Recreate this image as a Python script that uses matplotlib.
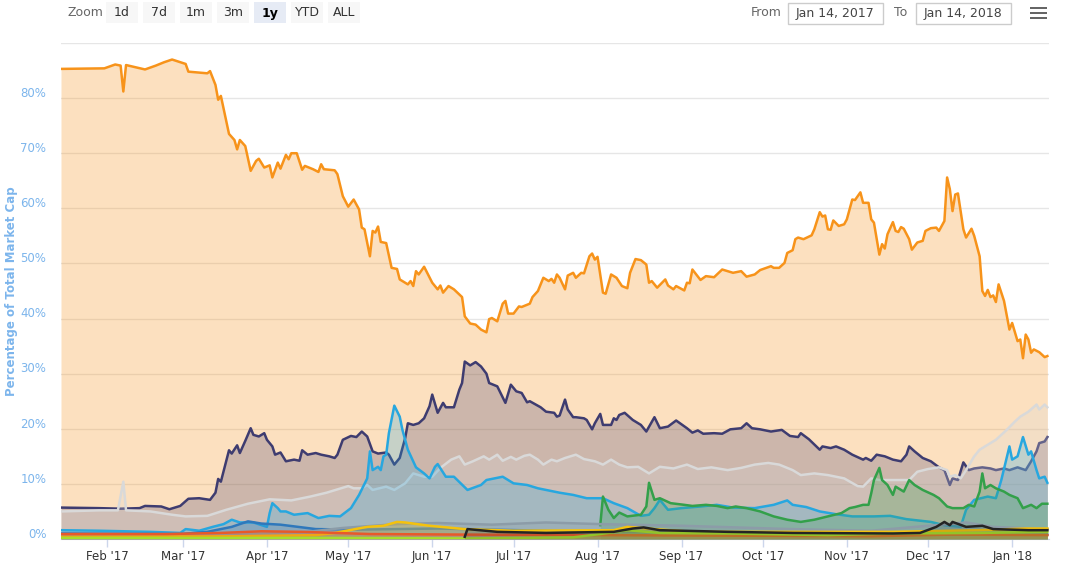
import numpy as np
import matplotlib.pyplot as plt
import matplotlib.dates as mdates
from matplotlib.patches import Rectangle
from matplotlib.transforms import ScaledTranslation

# day offsets from 2017-01-14, values in % of total market cap
btc_days = [1, 17, 21, 23, 24, 25, 32, 36, 39, 42, 47, 48, 55, 56, 58, 59, 60, 63, 65, 66, 67, 69, 71, 73, 74, 76,
            78, 79, 81, 82, 84, 85, 86, 88, 90, 91, 94, 96, 97, 98, 102, 103, 105, 107, 109, 111, 112, 113, 115,
            116, 117, 118, 119, 121, 123, 125, 126, 129, 130, 131, 132, 133, 135, 138, 140, 141, 142, 144, 146,
            149, 150, 152, 154, 156, 158, 159, 160, 162, 164, 165, 166, 168, 170, 171, 174, 175, 177, 179, 181,
            182, 183, 184, 185, 187, 188, 190, 191, 193, 194, 196, 197, 198, 199, 201, 202, 204, 206, 208, 210,
            211, 213, 215, 217, 218, 219, 221, 224, 225, 227, 228, 231, 232, 233, 234, 237, 239, 242, 245, 249,
            252, 254, 257, 259, 263, 264, 266, 268, 269, 271, 272, 273, 275, 278, 279, 281, 282, 283, 284, 285,
            286, 288, 290, 291, 293, 294, 296, 297, 299, 300, 301, 303, 304, 305, 306, 308, 309, 310, 311, 312,
            314, 315, 317, 319, 320, 322, 324, 325, 327, 328, 329, 330, 331, 332, 334, 335, 337, 338, 340, 341,
            342, 343, 344, 345, 346, 347, 348, 349, 351, 352, 354, 355, 356, 357, 358, 359, 360, 362, 364, 365]
btc_vals = [85.3, 85.4, 86.1, 85.9, 81.2, 86.0, 85.2, 85.9, 86.5, 87.0, 86.2, 84.8, 84.5, 84.9, 82.4, 79.7, 80.4,
            73.5, 72.4, 70.7, 72.4, 71.3, 66.8, 68.6, 69.0, 67.4, 67.8, 65.6, 68.3, 67.2, 69.7, 68.9, 70.0, 70.0,
            67.0, 67.7, 67.1, 66.6, 68.0, 67.1, 66.9, 66.2, 62.2, 60.3, 61.6, 59.8, 56.5, 56.2, 51.3, 55.9, 55.6,
            56.7, 53.9, 53.7, 49.2, 49.0, 47.1, 46.2, 46.8, 45.9, 48.6, 48.0, 49.4, 46.5, 45.3, 46.0, 44.7, 45.9,
            45.3, 43.9, 40.4, 39.1, 38.9, 38.0, 37.5, 39.9, 40.1, 39.5, 42.7, 43.2, 40.9, 40.9, 42.2, 42.1, 42.7,
            43.9, 45.0, 47.4, 46.8, 47.2, 46.5, 48.0, 47.4, 45.3, 47.8, 48.3, 47.4, 48.3, 48.2, 51.3, 51.8, 50.7,
            51.2, 44.7, 44.5, 48.0, 47.4, 45.9, 45.5, 48.3, 50.8, 50.6, 49.8, 46.5, 46.8, 45.6, 47.1, 46.0, 45.3,
            45.9, 45.1, 46.5, 46.4, 48.9, 47.0, 47.7, 47.5, 48.9, 48.3, 48.6, 47.6, 48.0, 48.8, 49.5, 49.2, 49.2,
            50.1, 51.9, 52.4, 54.4, 54.7, 54.4, 55.1, 56.2, 59.3, 58.5, 58.7, 56.2, 56.1, 57.8, 56.8, 57.1, 58.0,
            61.6, 61.5, 62.9, 61.0, 61.0, 58.0, 57.4, 51.6, 53.5, 52.7, 55.3, 57.5, 55.9, 55.7, 56.6, 56.3, 54.4,
            52.5, 53.8, 54.1, 55.9, 56.4, 56.5, 55.9, 57.7, 65.6, 63.5, 59.5, 62.5, 62.7, 56.2, 54.7, 56.3, 55.0,
            51.3, 45.0, 44.1, 45.2, 43.9, 44.2, 43.0, 46.2, 44.7, 43.2, 38.0, 39.2, 35.9, 36.2, 32.8, 37.1, 36.2,
            33.8, 34.4, 33.9, 33.0, 33.2]

eth_days = [1, 15, 23, 30, 32, 38, 41, 45, 48, 52, 56, 58, 59, 60, 63, 64, 66, 67, 69, 71, 72, 74, 76, 77, 79, 80,
            82, 84, 87, 89, 90, 92, 95, 97, 100, 102, 103, 105, 108, 110, 112, 114, 116, 118, 121, 122, 124, 126,
            128, 129, 131, 133, 135, 137, 138, 140, 142, 143, 146, 148, 149, 150, 152, 154, 156, 158, 159, 162,
            165, 167, 169, 171, 173, 174, 178, 180, 183, 184, 185, 187, 188, 190, 191, 194, 195, 197, 198, 200,
            201, 204, 205, 206, 207, 209, 212, 215, 217, 220, 222, 225, 228, 232, 234, 236, 238, 242, 245, 248,
            252, 254, 256, 259, 263, 267, 270, 273, 274, 277, 281, 282, 285, 287, 290, 293, 297, 298, 300, 302,
            305, 308, 311, 313, 314, 316, 319, 322, 325, 327, 329, 330, 332, 334, 336, 338, 341, 344, 346, 349,
            351, 354, 357, 359, 361, 362, 364, 365]
eth_vals = [5.7, 5.6, 5.5, 5.6, 6.0, 5.9, 5.4, 6.0, 7.3, 7.4, 7.1, 8.4, 10.9, 10.4, 16.1, 15.5, 17.0, 15.6, 17.8,
            20.1, 18.9, 18.6, 19.2, 18.0, 16.8, 15.3, 15.7, 14.1, 14.4, 14.2, 16.1, 15.3, 15.6, 15.3, 15.0, 14.7,
            15.3, 18.0, 18.7, 18.5, 19.5, 18.6, 15.9, 15.5, 15.7, 15.3, 13.5, 14.7, 18.3, 21.0, 20.7, 21.0, 21.9,
            24.1, 26.2, 22.9, 24.7, 23.9, 23.9, 27.1, 28.3, 32.2, 31.5, 32.1, 31.3, 30.0, 28.3, 27.7, 24.7, 28.0,
            26.8, 26.5, 24.8, 25.0, 23.9, 23.1, 22.9, 22.2, 22.4, 25.3, 23.5, 22.1, 22.1, 21.9, 21.6, 19.9, 21.0,
            22.7, 20.7, 20.7, 21.9, 21.6, 22.5, 22.9, 21.6, 20.7, 19.5, 22.1, 20.1, 20.4, 21.5, 20.1, 19.3, 19.7,
            19.1, 19.2, 19.1, 19.9, 20.1, 21.0, 20.1, 19.9, 19.5, 19.8, 18.7, 18.5, 19.2, 18.1, 16.2, 16.8, 16.5,
            16.8, 16.2, 15.3, 14.4, 14.7, 14.2, 15.3, 15.0, 14.4, 14.1, 15.3, 16.8, 15.9, 14.7, 14.1, 13.0, 12.5,
            9.8, 11.0, 10.7, 13.9, 12.5, 12.8, 13.0, 12.8, 12.5, 12.8, 12.5, 13.0, 12.5, 14.1, 15.9, 17.4, 17.7,
            18.5]

xrp_days = [1, 15, 34, 45, 47, 52, 57, 61, 64, 67, 72, 77, 78, 79, 81, 82, 84, 87, 92, 96, 100, 104, 108, 111,
            114, 115, 116, 118, 119, 120, 121, 122, 124, 126, 127, 129, 132, 135, 137, 139, 140, 143, 146, 151,
            156, 158, 161, 164, 168, 173, 177, 180, 185, 190, 195, 201, 205, 210, 215, 218, 220, 222, 225, 230,
            237, 243, 249, 257, 264, 269, 271, 276, 281, 287, 293, 301, 307, 313, 322, 327, 333, 335, 338, 343,
            346, 348, 351, 352, 354, 356, 358, 359, 361, 362, 364, 365]
xrp_vals = [1.6, 1.5, 1.3, 1.1, 1.8, 1.5, 2.2, 2.7, 3.5, 3.0, 3.0, 2.2, 4.7, 6.5, 5.6, 5.0, 5.0, 4.4, 4.7, 3.8,
            4.2, 4.1, 5.6, 8.0, 11.0, 15.9, 12.5, 13.1, 12.5, 15.0, 15.3, 19.2, 24.2, 22.2, 19.8, 16.2, 13.0, 11.9,
            11.0, 13.1, 13.6, 11.3, 11.3, 8.9, 9.8, 10.7, 11.0, 11.3, 10.1, 9.8, 9.2, 8.9, 8.4, 8.0, 7.4, 7.4, 6.5,
            5.6, 4.2, 4.4, 5.6, 7.1, 5.3, 5.6, 5.9, 6.2, 5.7, 5.6, 6.2, 7.0, 6.2, 5.8, 5.0, 4.5, 4.1, 4.1, 4.2,
            3.6, 3.1, 2.5, 2.2, 5.3, 7.1, 7.7, 7.4, 10.7, 16.8, 14.4, 15.0, 18.5, 15.3, 15.9, 12.5, 11.0, 11.3,
            10.2]

oth_days = [1, 15, 22, 24, 25, 34, 42, 47, 55, 62, 70, 78, 86, 93, 99, 107, 109, 112, 114, 116, 121, 124, 128,
            131, 135, 138, 141, 145, 148, 150, 153, 157, 159, 162, 164, 167, 169, 172, 174, 177, 179, 182, 184,
            187, 191, 194, 198, 201, 204, 207, 210, 214, 218, 222, 227, 232, 236, 241, 247, 252, 257, 262, 266,
            271, 274, 279, 284, 290, 295, 297, 300, 303, 308, 314, 317, 321, 325, 328, 329, 331, 333, 335, 338,
            340, 344, 346, 350, 353, 355, 358, 361, 362, 364, 365]
oth_vals = [5.0, 5.2, 5.2, 10.4, 5.2, 5.0, 4.4, 4.1, 4.2, 5.3, 6.4, 7.2, 7.0, 7.7, 8.4, 9.6, 9.2, 9.2, 9.8, 8.9,
            9.5, 8.9, 10.1, 11.9, 11.3, 11.3, 12.9, 14.4, 15.0, 13.5, 14.1, 15.0, 14.4, 15.3, 14.2, 14.9, 14.4,
            15.1, 15.3, 14.4, 13.5, 14.4, 14.1, 14.7, 15.3, 14.5, 14.1, 13.5, 14.4, 13.5, 13.0, 13.1, 11.9, 13.1,
            12.8, 13.5, 12.7, 13.0, 12.5, 12.9, 13.5, 13.8, 13.5, 12.5, 11.6, 11.9, 11.6, 11.0, 9.6, 9.5, 11.0,
            10.7, 10.7, 10.7, 12.2, 12.7, 13.0, 12.5, 11.3, 11.6, 11.0, 12.5, 15.0, 16.2, 17.4, 18.0, 19.8, 21.3,
            22.2, 23.1, 24.4, 23.5, 24.4, 23.9]

bch_days = [200, 201, 203, 205, 207, 210, 215, 217, 218, 220, 222, 226, 231, 234, 239, 243, 247, 250, 254, 259,
            264, 269, 274, 279, 284, 289, 292, 294, 297, 299, 300, 301, 303, 304, 306, 308, 309, 312, 314, 316,
            319, 323, 325, 328, 330, 334, 336, 338, 340, 341, 342, 344, 346, 349, 351, 354, 356, 359, 361, 363, 365]
bch_vals = [2.5, 7.7, 5.3, 3.8, 4.8, 4.1, 4.4, 5.9, 10.2, 7.1, 7.4, 6.5, 6.2, 6.0, 6.2, 6.0, 5.6, 5.9, 5.6, 5.0,
            4.1, 3.5, 3.1, 3.5, 4.1, 4.7, 5.6, 5.8, 6.2, 6.2, 8.3, 10.7, 12.9, 10.7, 9.8, 8.0, 9.5, 8.6, 10.7, 9.8,
            8.9, 8.0, 7.4, 5.9, 5.6, 5.6, 6.2, 5.9, 8.6, 11.9, 9.2, 9.8, 9.2, 8.6, 8.0, 7.4, 5.6, 6.2, 5.6, 6.4, 6.4]

dash_days = [1, 45, 55, 64, 70, 75, 82, 95, 110, 140, 170, 200, 250, 300, 365]
dash_vals = [1.0, 0.9, 1.3, 2.2, 3.2, 2.8, 2.6, 1.8, 1.7, 1.9, 1.6, 1.3, 1.0, 0.8, 0.8]

gray_days = [1, 60, 90, 105, 125, 140, 160, 180, 200, 230, 270, 300, 335, 345, 365]
gray_vals = [0.5, 0.6, 1.2, 2.0, 2.7, 2.9, 2.6, 3.0, 2.7, 2.4, 1.8, 1.5, 3.0, 2.2, 1.8]

ylw_days = [1, 65, 95, 102, 114, 120, 125, 128, 137, 150, 168, 205, 210, 220, 234, 308, 340, 357, 365]
ylw_vals = [0.4, 0.5, 0.7, 1.1, 2.2, 2.4, 3.1, 3.0, 2.4, 1.8, 1.5, 1.6, 2.2, 1.8, 1.3, 1.3, 1.6, 1.9, 1.9]

red_days = [1, 40, 60, 75, 90, 115, 150, 200, 250, 300, 330, 365]
red_vals = [0.9, 0.9, 1.1, 1.4, 1.3, 0.9, 0.8, 0.7, 0.6, 0.5, 0.8, 0.7]

lime_days = [1, 100, 150, 190, 200, 210, 222, 247, 284, 308, 340, 365]
lime_vals = [0.2, 0.2, 0.1, 0.3, 0.9, 1.6, 1.1, 1.0, 0.7, 1.0, 1.1, 1.3]

iota_days = [150, 151, 162, 180, 205, 212, 216, 222, 247, 271, 308, 318, 324, 327, 329, 330, 335, 341, 345, 358, 365]
iota_vals = [0.4, 1.8, 1.3, 1.1, 1.3, 1.9, 2.1, 1.6, 1.3, 1.1, 1.0, 1.1, 2.2, 3.1, 2.5, 3.1, 2.2, 2.4, 1.8, 1.6, 1.6]

y_ticks = [0, 10, 20, 30, 40, 50, 60, 70, 80]
zoom_buttons = ['1d', '7d', '1m', '3m', '1y', 'YTD', 'ALL']

start = mdates.date2num(np.datetime64('2017-01-14'))

W, H = 1074, 568
fig = plt.figure(figsize=(W / 100, H / 100), dpi=100)
ax = fig.add_axes([61 / W, 1 - 539 / H, (1049 - 61) / W, (539 - 43) / H])

series = [
    (btc_days, btc_vals, '#f7931a', 0.28),
    (eth_days, eth_vals, '#3e3c70', 0.25),
    (oth_days, oth_vals, '#d9d9d9', 0.25),
    (xrp_days, xrp_vals, '#27a7df', 0.25),
    (bch_days, bch_vals, '#33a04a', 0.25),
    (dash_days, dash_vals, '#2f78bb', 0.25),
    (gray_days, gray_vals, '#8c9ca8', 0.3),
    (ylw_days, ylw_vals, '#f4c20d', 0.25),
    (red_days, red_vals, '#e8592a', 0.25),
    (lime_days, lime_vals, '#a6df2b', 0.25),
    (iota_days, iota_vals, '#242424', 0.15),
]
for i, (d, v, c, a) in enumerate(series):
    x = start + np.asarray(d, float)
    z = 2 + i
    ax.fill_between(x, 0, v, color=c, alpha=a, lw=0, zorder=z)
    ax.plot(x, v, color=c, lw=1.8, zorder=z + 0.5, solid_joinstyle='round')

ax.set_ylim(0, 90)
ax.set_xlim(start + 1, start + 365.6)
ax.set_yticks(y_ticks + [90])
ax.set_yticklabels([f'{t}%' for t in y_ticks] + [''])
ax.grid(axis='y', color='#e6e6e6', lw=1, zorder=0)
ax.tick_params(axis='y', length=0, pad=10.5, labelsize=8.5, labelcolor='#7cb5ec')
off = ScaledTranslation(0, 4.5 / 72, fig.dpi_scale_trans)
for lab in ax.get_yticklabels():
    lab.set_transform(lab.get_transform() + off)

ax.xaxis.set_major_locator(mdates.MonthLocator())
ax.xaxis.set_major_formatter(mdates.DateFormatter("%b '%y"))
ax.tick_params(axis='x', length=6, width=1, color='#ccd6eb', labelsize=8.5, labelcolor='#333333', pad=2)

for s in ['top', 'right', 'left']:
    ax.spines[s].set_visible(False)
ax.spines['bottom'].set_color('#ccd6eb')
ax.set_ylabel('Percentage of Total Market Cap', color='#7cb5ec', fontsize=8.5, fontweight='bold')
ax.yaxis.set_label_coords(-43 / (1049 - 61), 0.5)


def px(x, y):
    return x / W, 1 - y / H


# range selector
fig.text(*px(67, 13), 'Zoom', fontsize=9, color='#666666', va='center')
for i, b in enumerate(zoom_buttons):
    x0 = 106 + i * 37
    sel = b == '1y'
    fig.patches.append(Rectangle(px(x0, 23), 32 / W, 21 / H, transform=fig.transFigure,
                                 facecolor='#e6ebf5' if sel else '#f7f7f7', edgecolor='none'))
    fig.text(*px(x0 + 16, 13), b, fontsize=9, color='#000000' if sel else '#333333',
             ha='center', va='center', fontweight='bold' if sel else 'normal')

fig.text(*px(751, 13), 'From', fontsize=9, color='#666666', va='center')
fig.text(*px(894, 13), 'To', fontsize=9, color='#666666', va='center')
for x0, t in [(788, 'Jan 14, 2017'), (916, 'Jan 14, 2018')]:
    fig.patches.append(Rectangle(px(x0, 24), 95 / W, 21 / H, transform=fig.transFigure,
                                 facecolor='white', edgecolor='#cccccc', lw=1))
    fig.text(*px(x0 + 47, 13), t, fontsize=9, color='#444444', ha='center', va='center')
for yy in [8, 13, 18]:
    fig.patches.append(Rectangle(px(1030, yy + 1.3), 17 / W, 2.6 / H, transform=fig.transFigure,
                                 facecolor='#666666', edgecolor='none'))

fig.savefig('out.png', dpi=100)
